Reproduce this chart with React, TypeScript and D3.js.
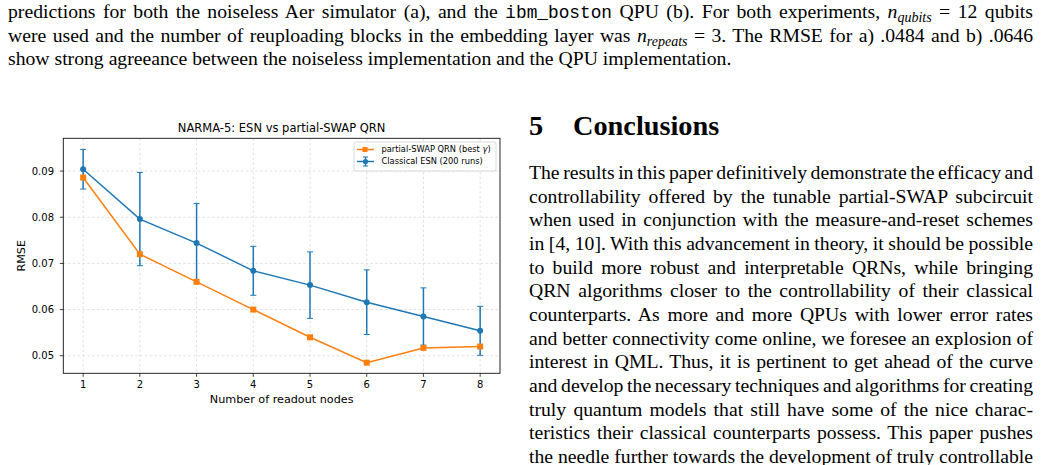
import React, { useEffect, useRef } from 'react';
import * as d3 from 'd3';

// readout nodes on the x axis
const nodes = [1, 2, 3, 4, 5, 6, 7, 8];
// partial-SWAP QRN (best gamma)
const qrnRmse = [0.0886, 0.072, 0.066, 0.06, 0.054, 0.0485, 0.0517, 0.052];
// classical ESN, mean and spread over 200 runs
const esnRmse = [0.0904, 0.0796, 0.0744, 0.0684, 0.0653, 0.0616, 0.0585, 0.0554];
const esnErr = [0.0043, 0.0101, 0.0086, 0.0053, 0.0072, 0.007, 0.0062, 0.0053];
const yTicks = [0.05, 0.06, 0.07, 0.08, 0.09];

const conclusionLines = [
  'The results in this paper definitively demonstrate the efficacy and',
  'controllability offered by the tunable partial-SWAP subcircuit',
  'when used in conjunction with the measure-and-reset schemes',
  'in [4, 10]. With this advancement in theory, it should be possible',
  'to build more robust and interpretable QRNs, while bringing',
  'QRN algorithms closer to the controllability of their classical',
  'counterparts. As more and more QPUs with lower error rates',
  'and better connectivity come online, we foresee an explosion of',
  'interest in QML. Thus, it is pertinent to get ahead of the curve',
  'and develop the necessary techniques and algorithms for creating',
  'truly quantum models that still have some of the nice charac-',
  'teristics their classical counterparts possess. This paper pushes',
  'the needle further towards the development of truly controllable',
];

const W = 1042;
const H = 465;
const plot = { left: 63.3, right: 500, top: 138.3, bottom: 373.3 };
const blue = '#1f77b4';
const orange = '#ff7f0e';
const chartFont = '"DejaVu Sans", sans-serif';
const serif = '"Liberation Serif", "Times New Roman", serif';
const bodySize = 19.7;

export default function App() {
  const svgRef = useRef<SVGSVGElement>(null);

  const x = d3.scaleLinear().domain([0.65, 8.35]).range([plot.left, plot.right]);
  const y = d3.scaleLinear().domain([0.0462, 0.0971]).range([plot.bottom, plot.top]);
  const line = d3.line<number>().x((_, i) => x(nodes[i])).y(d => y(d));

  useEffect(() => {
    // justify the paper lines by spreading the extra room over the word gaps
    d3.select(svgRef.current).selectAll<SVGTextElement, unknown>('text.justify').each(function () {
      const target = +(this.getAttribute('data-width') || 0);
      this.setAttribute('word-spacing', '0');
      const natural = this.getComputedTextLength();
      const spaces = (this.textContent || '').split(' ').length - 1;
      if (spaces > 0) this.setAttribute('word-spacing', String((target - natural) / spaces));
    });
  }, []);

  const cap = 3;

  return (
    <svg ref={svgRef} width={W} height={H} style={{ position: 'absolute', left: 0, top: 0, background: '#fff' }}>
      {/* paragraph above the figure */}
      <g fontFamily={serif} fontSize={bodySize} fill="#000">
        <text className="justify" data-width={1025} x={8} y={18}>
          predictions for both the noiseless Aer simulator (a), and the{' '}
          <tspan fontFamily='"Liberation Mono", monospace' fontSize={17.8}>ibm_boston</tspan> QPU (b). For both experiments,{' '}
          <tspan fontStyle="italic">n</tspan>
          <tspan fontStyle="italic" fontSize={14} dy={4}>qubits</tspan>
          <tspan dy={-4}> = 12 qubits</tspan>
        </text>
        <text className="justify" data-width={1025} x={8} y={41.5}>
          were used and the number of reuploading blocks in the embedding layer was{' '}
          <tspan fontStyle="italic">n</tspan>
          <tspan fontStyle="italic" fontSize={14} dy={4}>repeats</tspan>
          <tspan dy={-4}> = 3. The RMSE for a) .0484 and b) .0646</tspan>
        </text>
        <text x={8} y={65}>show strong agreeance between the noiseless implementation and the QPU implementation.</text>
      </g>

      {/* section text on the right */}
      <g fontFamily={serif} fill="#000">
        <text x={529} y={135} fontSize={28.3} fontWeight="bold">5</text>
        <text x={573} y={135} fontSize={28.3} fontWeight="bold">Conclusions</text>
        {conclusionLines.map((l, i) => (
          <text key={i} className="justify" data-width={504} x={529} y={179 + i * 23.65} fontSize={bodySize}>{l}</text>
        ))}
      </g>

      {/* chart */}
      <g fontFamily={chartFont} fill="#000">
        <text x={(plot.left + plot.right) / 2} y={132} fontSize={11.5} textAnchor="middle">NARMA-5: ESN vs partial-SWAP QRN</text>

        {nodes.map(n => (
          <line key={'gx' + n} x1={x(n)} x2={x(n)} y1={plot.top} y2={plot.bottom} stroke="#d4d4d4" strokeWidth={0.7} strokeDasharray="2.6,2.2" />
        ))}
        {yTicks.map(t => (
          <line key={'gy' + t} x1={plot.left} x2={plot.right} y1={y(t)} y2={y(t)} stroke="#d4d4d4" strokeWidth={0.7} strokeDasharray="2.6,2.2" />
        ))}

        {/* ESN error bars and line */}
        {esnRmse.map((m, i) => {
          const cx = x(nodes[i]);
          const top = y(m + esnErr[i]);
          const bot = y(m - esnErr[i]);
          return (
            <g key={'eb' + i} stroke={blue} strokeWidth={1.5}>
              <line x1={cx} x2={cx} y1={top} y2={bot} />
              <line x1={cx - cap} x2={cx + cap} y1={top} y2={top} strokeWidth={1} />
              <line x1={cx - cap} x2={cx + cap} y1={bot} y2={bot} strokeWidth={1} />
            </g>
          );
        })}
        <path d={line(esnRmse) || ''} fill="none" stroke={blue} strokeWidth={1.5} />
        {esnRmse.map((m, i) => (
          <circle key={'ec' + i} cx={x(nodes[i])} cy={y(m)} r={3} fill={blue} />
        ))}

        {/* QRN line */}
        <path d={line(qrnRmse) || ''} fill="none" stroke={orange} strokeWidth={1.5} />
        {qrnRmse.map((m, i) => (
          <rect key={'qs' + i} x={x(nodes[i]) - 3} y={y(m) - 3} width={6} height={6} fill={orange} />
        ))}

        {/* frame */}
        <rect x={plot.left} y={plot.top} width={plot.right - plot.left} height={plot.bottom - plot.top} fill="none" stroke="#111" strokeWidth={0.9} />

        {/* x axis */}
        {nodes.map(n => (
          <g key={'xt' + n}>
            <line x1={x(n)} x2={x(n)} y1={plot.bottom} y2={plot.bottom + 3.5} stroke="#111" strokeWidth={0.8} />
            <text x={x(n)} y={388} fontSize={10} textAnchor="middle">{n}</text>
          </g>
        ))}
        <text x={(plot.left + plot.right) / 2} y={403} fontSize={11.2} textAnchor="middle">Number of readout nodes</text>

        {/* y axis */}
        {yTicks.map(t => (
          <g key={'yt' + t}>
            <line x1={plot.left - 3.5} x2={plot.left} y1={y(t)} y2={y(t)} stroke="#111" strokeWidth={0.8} />
            <text x={54} y={y(t) + 3.6} fontSize={10} textAnchor="end">{d3.format('.2f')(t)}</text>
          </g>
        ))}
        <text transform={`translate(${25},${(plot.top + plot.bottom) / 2}) rotate(-90)`} fontSize={11.2} textAnchor="middle">RMSE</text>

        {/* legend */}
        <g>
          <rect x={354} y={142} width={142} height={29} rx={2} fill="#fff" fillOpacity={0.8} stroke="#cfcfcf" strokeWidth={0.8} />
          <line x1={357} x2={374} y1={149.5} y2={149.5} stroke={orange} strokeWidth={1.5} />
          <rect x={362.5} y={147} width={5} height={5} fill={orange} />
          <text x={381.5} y={152.4} fontSize={8.3}>
            partial-SWAP QRN (best <tspan fontStyle="italic">γ</tspan>)
          </text>
          <line x1={357} x2={374} y1={161.5} y2={161.5} stroke={blue} strokeWidth={1.5} />
          <line x1={365.5} x2={365.5} y1={157} y2={166} stroke={blue} strokeWidth={1.5} />
          <line x1={363} x2={368} y1={157} y2={157} stroke={blue} strokeWidth={1} />
          <line x1={363} x2={368} y1={166} y2={166} stroke={blue} strokeWidth={1} />
          <circle cx={365.5} cy={161.5} r={2.6} fill={blue} />
          <text x={381.5} y={164.4} fontSize={8.3}>Classical ESN (200 runs)</text>
        </g>
      </g>
    </svg>
  );
}
